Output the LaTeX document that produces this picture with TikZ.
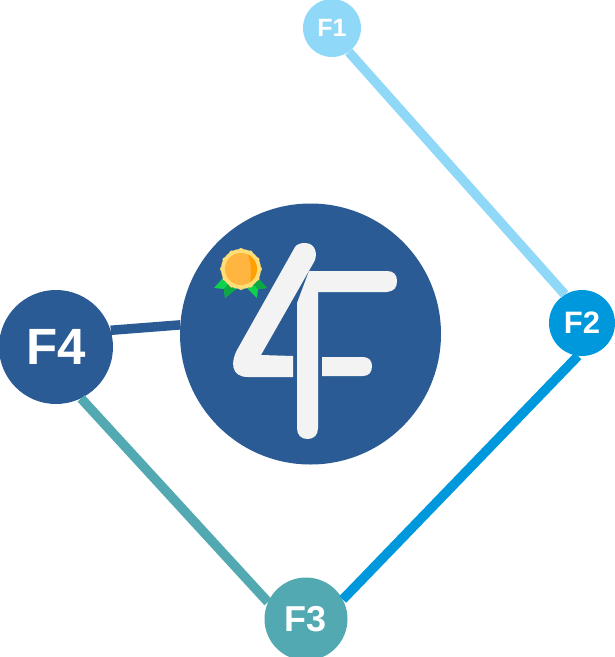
\documentclass[tikz,border=0pt]{standalone}
\usepackage{fontspec}
\setmainfont{Liberation Sans}
\definecolor{cA}{HTML}{8FD8F8}
\definecolor{cB}{HTML}{0098DC}
\definecolor{cC}{HTML}{52A9B1}
\definecolor{cD}{HTML}{2A5B94}
\definecolor{logo}{HTML}{F3F3F4}
\definecolor{medalrim}{HTML}{FFDD77}
\definecolor{medalcore}{HTML}{FFB540}
\definecolor{medalshade}{HTML}{FFA000}
\definecolor{leaf}{HTML}{10D050}
\definecolor{leafdark}{HTML}{0BA844}
\tikzset{
  hub/.style={circle,inner sep=0pt,text=white},
  link/.style={line width=9.5pt},
}
\begin{document}
\begin{tikzpicture}[x=1pt,y=-1pt]
\useasboundingbox (0,0) rectangle (615,657);
\node[hub,fill=cA,minimum size=58pt,font=\bfseries\fontsize{25}{27}\selectfont] (F1) at (332,28) {F1};
\node[hub,fill=cB,minimum size=66pt,font=\bfseries\fontsize{31}{33}\selectfont] (F2) at (582,323) {\raisebox{-1.5pt}{F2}};
\node[hub,fill=cC,minimum size=83pt,font=\bfseries\fontsize{36}{38}\selectfont] (F3) at (306,619) {F3};
\node[hub,fill=cD,minimum size=114pt,font=\bfseries\fontsize{51}{53}\selectfont] (F4) at (56,347) {\raisebox{-3pt}{F4}};
\node[circle,inner sep=0pt,fill=cD,minimum size=261pt] (main) at (310.5,334) {};
\draw[link,cA] (F1.-55) -- (F2.121);
\draw[link,cB] (F2.-97) -- (F3.28);
\draw[link,cC] (F3.156) -- (F4.-64);
\draw[link,cD] (F4.17) -- (main.176);
% logo: the 4
\fill[logo] (295,247) -- (237,350)
  .. controls (231,361) and (230,377) .. (248,377)
  -- (293,377) -- (293,356) -- (261,355) -- (314,262)
  .. controls (318,255) and (316,243) .. (305,243)
  .. controls (301,243) and (297,244) .. (295,247) -- cycle;
% logo: the F
\fill[logo] (297,303) -- (309,271) -- (387,271)
  .. controls (394,271) and (397,275) .. (397,281)
  .. controls (397,288) and (394,291) .. (387,292)
  -- (318,292) -- (318,428)
  .. controls (318,435) and (314,439) .. (307.5,439)
  .. controls (301,439) and (297,435) .. (297,428) -- cycle;
\fill[logo] (322,357) -- (363,357)
  .. controls (369,357) and (372,361) .. (372,366)
  .. controls (372,372) and (369,376) .. (363,376)
  -- (322,376) -- cycle;
% medal
\fill[leaf] (222,279) -- (214,288) -- (224,289) -- (225,298) -- (237,288) -- cycle;
\fill[leaf] (258,278) -- (267,288) -- (258,289) -- (257,298) -- (246,287) -- cycle;
\fill[leafdark] (224,289) -- (225,298) -- (235,290) -- (229,283) -- cycle;
\fill[leafdark] (258,278) -- (267,288) -- (258,289) -- (253,284) -- cycle;
\fill[medalrim] (241,269) circle (20pt);
\foreach \a in {0,30,...,330}
  \fill[medalrim] (241,269) ++(\a:18.5pt) circle (2.5pt);
\fill[medalcore] (241,269) circle (16pt);
\begin{scope}
\clip (241,269) circle (16pt);
\fill[medalshade] (246,250) .. controls (252,262) and (252,276) .. (249,288) -- (260,288) -- (260,250) -- cycle;
\end{scope}
\end{tikzpicture}
\end{document}
